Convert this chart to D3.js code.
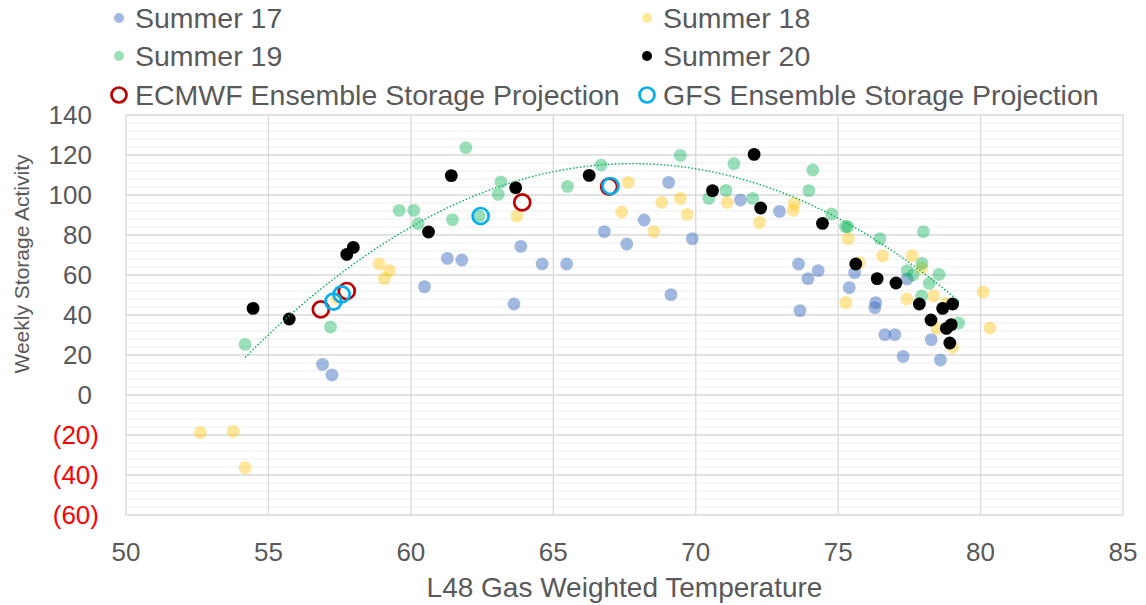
<!DOCTYPE html>
<html>
<head>
<meta charset="utf-8">
<script src="https://cdn.jsdelivr.net/npm/d3@7"></script>
<style>
  body { margin: 0; background: #fff; }
  text { font-family: "Liberation Sans", Arial, sans-serif; fill: #595959; }
</style>
</head>
<body>
<script>
// data: [temperature, storage]
const summer17 = [
  [56.9, 15.3], [57.23, 10], [60.48, 54.2], [61.28, 68.3], [61.79, 67.5], [63.62, 45.5],
  [63.86, 74.3], [64.61, 65.5], [65.47, 65.5], [66.79, 81.7], [67.58, 75.5], [68.19, 87.5],
  [69.05, 106.3], [69.88, 78.2], [69.13, 50.2], [71.57, 97.5], [72.94, 91.8], [73.61, 65.5],
  [74.3, 62.2], [73.94, 58.2], [73.66, 42.2], [75.58, 61.2], [75.39, 53.7], [76.32, 46.2],
  [76.29, 43.7], [76.64, 30.2], [76.99, 30.2], [77.42, 58], [77.28, 19.3], [78.27, 27.7],
  [78.59, 17.5]
];
const summer18 = [
  [52.61, -18.8], [53.76, -18.2], [54.18, -36.3], [57.4, 48.3], [58.88, 65.5], [59.25, 62.2],
  [59.07, 58.2], [63.72, 89.5], [67.63, 106.3], [67.4, 91.5], [68.81, 96.3], [69.46, 98.3],
  [69.7, 90.3], [68.53, 81.7], [71.11, 96.3], [72.24, 86.3], [73.46, 95.8], [73.42, 92.3],
  [75.35, 78.2], [75.74, 66.2], [75.27, 46.2], [76.56, 69.5], [77.6, 69.7], [77.94, 63.5],
  [78.35, 49.5], [77.41, 48], [78.8, 45.8], [78.47, 33.3], [79.02, 23.8], [80.09, 51.5],
  [80.33, 33.5]
];
const summer19 = [
  [54.18, 25.3], [57.18, 34], [59.59, 92.3], [60.1, 92.3], [60.26, 85.7], [61.46, 87.7],
  [61.93, 123.7], [62.4, 89.5], [63.16, 106.5], [63.07, 100.3], [65.5, 104.3], [66.68, 115],
  [69.46, 119.8], [70.46, 98.3], [71.06, 102.3], [71.34, 115.7], [72.0, 98.3], [73.97, 102.2],
  [74.11, 112.5], [74.77, 90.5], [75.26, 84.2], [75.34, 84.2], [76.47, 78.2], [77.99, 81.7],
  [77.94, 65.8], [77.42, 62.2], [77.63, 60], [78.54, 60.3], [78.2, 55.8], [77.93, 49.5],
  [79.23, 36]
];
const summer20 = [
  [54.46, 43.3], [55.73, 38], [57.75, 70.3], [57.98, 73.8], [60.62, 81.5], [61.42, 109.7],
  [63.68, 103.7], [66.26, 109.8], [70.59, 102.2], [72.05, 120.3], [72.28, 93.5], [74.45, 85.8],
  [75.62, 65.5], [76.37, 58.2], [77.03, 56], [77.85, 45.5], [78.67, 43.3], [79.02, 45.5],
  [78.26, 37.5], [78.8, 33.3], [78.97, 35.2], [78.92, 26]
];
const ecmwf = [[56.84, 42.8], [57.75, 52], [63.91, 96.3], [66.96, 104.2]];
const gfs = [[57.28, 46.7], [57.57, 50.3], [62.45, 89.5], [67.01, 104.5]];

const xTicks = [50, 55, 60, 65, 70, 75, 80, 85];
const yTicks = [-60, -40, -20, 0, 20, 40, 60, 80, 100, 120, 140];

const width = 1146, height = 605;
const plot = { left: 126, right: 1123, top: 115, bottom: 515 };

const svg = d3.select("body").append("svg")
  .attr("width", width)
  .attr("height", height);

const x = d3.scaleLinear().domain([50, 85]).range([plot.left, plot.right]);
const y = d3.scaleLinear().domain([-60, 140]).range([plot.bottom, plot.top]);

// minor gridlines every 4
svg.append("g")
  .selectAll("line")
  .data(d3.range(-60, 141, 4).filter((v) => v % 20 !== 0))
  .join("line")
  .attr("x1", plot.left).attr("x2", plot.right)
  .attr("y1", (d) => y(d)).attr("y2", (d) => y(d))
  .attr("stroke", "#ededed").attr("stroke-width", 1);

// major gridlines
svg.append("g")
  .selectAll("line")
  .data(yTicks)
  .join("line")
  .attr("x1", plot.left).attr("x2", plot.right)
  .attr("y1", (d) => y(d)).attr("y2", (d) => y(d))
  .attr("stroke", "#d9d9d9").attr("stroke-width", 1.3);

svg.append("g")
  .selectAll("line")
  .data(xTicks)
  .join("line")
  .attr("x1", (d) => x(d)).attr("x2", (d) => x(d))
  .attr("y1", plot.top).attr("y2", plot.bottom)
  .attr("stroke", "#d9d9d9").attr("stroke-width", 1.3);

// axis labels
svg.append("g")
  .selectAll("text")
  .data(yTicks)
  .join("text")
  .attr("x", (d) => (d < 0 ? 99 : 92))
  .attr("y", (d) => y(d) + 9)
  .attr("text-anchor", "end")
  .style("font-size", "26px")
  .style("fill", (d) => (d < 0 ? "#ff0000" : "#595959"))
  .text((d) => (d < 0 ? `(${-d})` : d));

svg.append("g")
  .selectAll("text")
  .data(xTicks)
  .join("text")
  .attr("x", (d) => x(d))
  .attr("y", 561)
  .attr("text-anchor", "middle")
  .style("font-size", "26px")
  .text((d) => d);

svg.append("text")
  .attr("x", (plot.left + plot.right) / 2)
  .attr("y", 597)
  .attr("text-anchor", "middle")
  .style("font-size", "28px")
  .text("L48 Gas Weighted Temperature");

svg.append("text")
  .attr("transform", "translate(29,264) rotate(-90)")
  .attr("text-anchor", "middle")
  .style("font-size", "21px")
  .text("Weekly Storage Activity");

// series
const series = [
  { name: "Summer 17", data: summer17, color: "#4472c4", op: 0.5 },
  { name: "Summer 18", data: summer18, color: "#ffc000", op: 0.4 },
  { name: "Summer 19", data: summer19, color: "#00b050", op: 0.4 },
  { name: "Summer 20", data: summer20, color: "#000000", op: 1 },
];

series.forEach((s) => {
  svg.append("g")
    .selectAll("circle")
    .data(s.data)
    .join("circle")
    .attr("cx", (d) => x(d[0]))
    .attr("cy", (d) => y(d[1]))
    .attr("r", 6.4)
    .attr("fill", s.color)
    .attr("fill-opacity", s.op);
});

// polynomial (order 2) trendline for Summer 19, least squares
function quadFit(pts) {
  const S = (f) => d3.sum(pts, f);
  const n = pts.length;
  const sx = S((p) => p[0]), sx2 = S((p) => p[0] ** 2), sx3 = S((p) => p[0] ** 3), sx4 = S((p) => p[0] ** 4);
  const sy = S((p) => p[1]), sxy = S((p) => p[0] * p[1]), sx2y = S((p) => p[0] ** 2 * p[1]);
  const m = [[n, sx, sx2, sy], [sx, sx2, sx3, sxy], [sx2, sx3, sx4, sx2y]];
  for (let i = 0; i < 3; i++) {
    for (let k = i + 1; k < 3; k++) {
      const f = m[k][i] / m[i][i];
      for (let j = i; j < 4; j++) m[k][j] -= f * m[i][j];
    }
  }
  const c = [0, 0, 0];
  for (let i = 2; i >= 0; i--) {
    let v = m[i][3];
    for (let j = i + 1; j < 3; j++) v -= m[i][j] * c[j];
    c[i] = v / m[i][i];
  }
  return c;
}
const coef = quadFit(summer19);
const [x0, x1] = d3.extent(summer19, (d) => d[0]);
const trend = d3.range(x0, x1 + 0.001, (x1 - x0) / 80).map((t) => [t, coef[0] + coef[1] * t + coef[2] * t * t]);

svg.append("path")
  .datum(trend)
  .attr("fill", "none")
  .attr("stroke", "#00b050")
  .attr("stroke-width", 1.4)
  .attr("stroke-dasharray", "1.5,2")
  .attr("d", d3.line().x((d) => x(d[0])).y((d) => y(d[1])));

// projections
[{ data: ecmwf, color: "#c00000" }, { data: gfs, color: "#00b0f0" }].forEach((s) => {
  svg.append("g")
    .selectAll("circle")
    .data(s.data)
    .join("circle")
    .attr("cx", (d) => x(d[0]))
    .attr("cy", (d) => y(d[1]))
    .attr("r", 8)
    .attr("fill", "none")
    .attr("stroke", s.color)
    .attr("stroke-width", 2.7);
});

// legend
const legend = [
  { name: "Summer 17", color: "#4472c4", op: 0.5, col: 0, row: 0 },
  { name: "Summer 18", color: "#ffc000", op: 0.4, col: 1, row: 0 },
  { name: "Summer 19", color: "#00b050", op: 0.4, col: 0, row: 1 },
  { name: "Summer 20", color: "#000000", op: 1, col: 1, row: 1 },
  { name: "ECMWF Ensemble Storage Projection", color: "#c00000", ring: true, col: 0, row: 2 },
  { name: "GFS Ensemble Storage Projection", color: "#00b0f0", ring: true, col: 1, row: 2 },
];
const colX = [119, 647];
const rowY = [18, 56, 95];

const lg = svg.append("g").selectAll("g").data(legend).join("g")
  .attr("transform", (d) => `translate(${colX[d.col]},${rowY[d.row]})`);

lg.filter((d) => !d.ring).append("circle")
  .attr("r", 5)
  .attr("fill", (d) => d.color)
  .attr("fill-opacity", (d) => d.op);

lg.filter((d) => d.ring).append("circle")
  .attr("r", 7.5)
  .attr("fill", "none")
  .attr("stroke", (d) => d.color)
  .attr("stroke-width", 2.7);

lg.append("text")
  .attr("x", 16)
  .attr("y", 10)
  .style("font-size", "28.5px")
  .text((d) => d.name);
</script>
</body>
</html>
